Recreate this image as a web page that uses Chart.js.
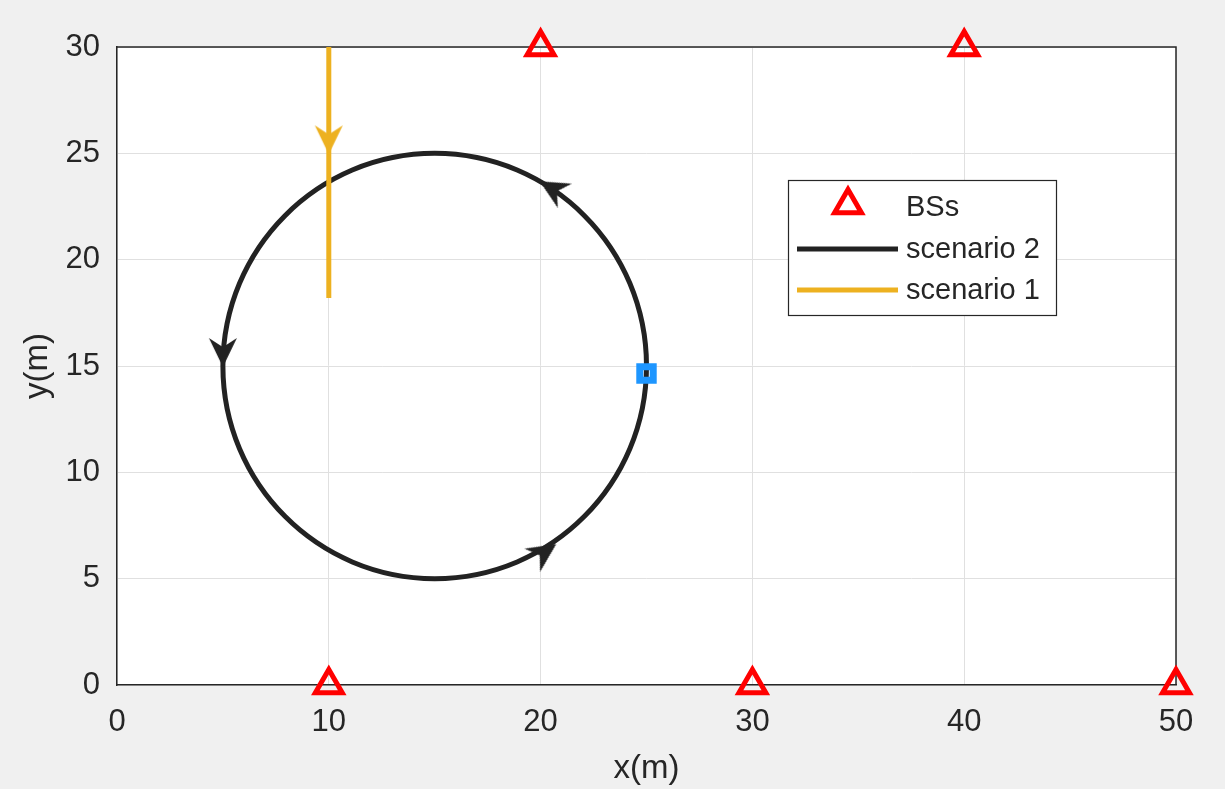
<!DOCTYPE html>
<html>
<head>
<meta charset="utf-8">
<script src="https://cdn.jsdelivr.net/npm/chart.js"></script>
<style>
  html, body { margin: 0; padding: 0; background: #f0f0f0; }
  canvas { display: block; }
</style>
</head>
<body>
<canvas id="trajChart" width="1225" height="789"></canvas>
<script>
// Estaciones base (triángulos rojos)
const bsX = [10, 20, 30, 40, 50];
const bsY = [0, 30, 0, 30, 0];

// Escenario 1: recta vertical en x = 10
const scen1X = [10, 10];
const scen1Y = [30, 18.2];

// Escenario 2: círculo centro (15,15) radio 10, puntos de cuadrante.
// El primero y el último solo sirven de apoyo a la curva (no se pintan)
const scen2X = [15, 25, 15, 5, 15, 25, 15];
const scen2Y = [5, 15, 25, 15, 5, 15, 25];

// Punto de inicio (cuadrado azul)
const startX = [25];
const startY = [14.65];

// Flechas de sentido: punta y rumbo (grados, antihorario desde +x)
const arrowX = [20, 5, 20.7, 10];
const arrowY = [23.66, 15, 6.6, 25];
const arrowHeading = [150, 270, 34, 270];
const arrowSeries = ['scenario 2', 'scenario 2', 'scenario 2', 'scenario 1'];

// Ejes
const xTicks = [0, 10, 20, 30, 40, 50];
const yTicks = [0, 5, 10, 15, 20, 25, 30];
const legendOrder = ['BSs', 'scenario 2', 'scenario 1'];

const seriesColor = { 'scenario 1': '#EDB120', 'scenario 2': '#222222' };
const textColor = '#262626';
const fontFamily = '"Liberation Sans", Arial, Helvetica, sans-serif';

Chart.defaults.font.family = fontFamily;
Chart.defaults.color = textColor;

// Punta de flecha dibujada en un canvas, con la punta en el centro
function makeArrowHead(color) {
    const c = document.createElement('canvas');
    c.width = 70;
    c.height = 70;
    const g = c.getContext('2d');
    g.translate(35, 35);
    g.fillStyle = color;
    g.beginPath();
    g.moveTo(1, 0);
    g.lineTo(-28, -14);
    g.quadraticCurveTo(-22, -5, -19, 0);
    g.quadraticCurveTo(-22, 5, -28, 14);
    g.closePath();
    g.fill();
    return c;
}
const arrowHeads = {
    'scenario 1': makeArrowHead(seriesColor['scenario 1']),
    'scenario 2': makeArrowHead(seriesColor['scenario 2']),
};

const toPoints = (xs, ys) => xs.map((x, i) => ({ x: x, y: ys[i] }));

// Fondo gris, área blanca y caja superior/derecha
const fondoPlugin = {
    id: 'fondo',
    beforeDraw(chart) {
        const { ctx, chartArea: a } = chart;
        ctx.save();
        ctx.fillStyle = '#f0f0f0';
        ctx.fillRect(0, 0, chart.width, chart.height);
        ctx.fillStyle = '#ffffff';
        ctx.fillRect(a.left, a.top, a.right - a.left, a.bottom - a.top);
        ctx.restore();
    },
    beforeDatasetsDraw(chart) {
        const { ctx, chartArea: a } = chart;
        ctx.save();
        ctx.strokeStyle = textColor;
        ctx.lineWidth = 1.5;
        ctx.beginPath();
        ctx.moveTo(a.left, a.top);
        ctx.lineTo(a.right, a.top);
        ctx.lineTo(a.right, a.bottom);
        ctx.stroke();
        ctx.restore();
    }
};

// Leyenda dentro del área, como en MATLAB
const leyendaPlugin = {
    id: 'leyenda',
    afterDraw(chart) {
        const ctx = chart.ctx;
        const box = { x: 788, y: 180, w: 268, h: 135 };
        const rowY = [207, 249, 290];
        ctx.save();
        ctx.fillStyle = '#ffffff';
        ctx.fillRect(box.x, box.y, box.w, box.h);
        ctx.strokeStyle = textColor;
        ctx.lineWidth = 1.2;
        ctx.strokeRect(box.x + 0.5, box.y + 0.5, box.w, box.h);

        legendOrder.forEach((label, i) => {
            const ds = chart.data.datasets.find(d => d.label === label);
            const y = rowY[i];
            if (ds.showLine) {
                ctx.strokeStyle = ds.borderColor;
                ctx.lineWidth = ds.borderWidth;
                ctx.beginPath();
                ctx.moveTo(797, y);
                ctx.lineTo(898, y);
                ctx.stroke();
            } else {
                const r = ds.pointRadius;
                const cy = y - 2;
                ctx.strokeStyle = ds.pointBorderColor;
                ctx.lineWidth = ds.pointBorderWidth;
                ctx.beginPath();
                ctx.moveTo(848, cy - r);
                ctx.lineTo(848 + r * Math.sqrt(3) / 2, cy + r / 2);
                ctx.lineTo(848 - r * Math.sqrt(3) / 2, cy + r / 2);
                ctx.closePath();
                ctx.stroke();
            }
            ctx.fillStyle = textColor;
            ctx.font = '29px ' + fontFamily;
            ctx.textAlign = 'left';
            ctx.textBaseline = 'middle';
            ctx.fillText(label, 906, y + 1);
        });
        ctx.restore();
    }
};

const ctx = document.getElementById('trajChart').getContext('2d');
const trajChart = new Chart(ctx, {
    type: 'scatter',
    data: {
        datasets: [
            {
                label: 'BSs',
                data: toPoints(bsX, bsY),
                pointStyle: 'triangle',
                pointRadius: 15.5,
                pointBorderWidth: 5,
                pointBorderColor: '#ff0000',
                pointBackgroundColor: 'rgba(0,0,0,0)',
                clip: false,
            },
            {
                label: 'start',
                data: toPoints(startX, startY),
                pointStyle: 'rect',
                pointRadius: 9.5,
                pointBorderWidth: 7,
                pointBorderColor: '#1e96ff',
                pointBackgroundColor: 'rgba(0,0,0,0)',
            },
            {
                label: 'arrows',
                data: toPoints(arrowX, arrowY),
                pointRadius: 1,
                pointStyle: c => arrowHeads[arrowSeries[c.dataIndex]],
                pointRotation: c => -arrowHeading[c.dataIndex],
                clip: false,
            },
            {
                label: 'scenario 1',
                data: toPoints(scen1X, scen1Y),
                showLine: true,
                borderColor: seriesColor['scenario 1'],
                borderWidth: 5,
                pointRadius: 0,
            },
            {
                label: 'scenario 2',
                data: toPoints(scen2X, scen2Y),
                showLine: true,
                borderColor: seriesColor['scenario 2'],
                borderWidth: 5,
                pointRadius: 0,
                // tensión que reproduce un arco de círculo entre puntos de cuadrante
                tension: 0.552,
                segment: {
                    borderColor: c => (c.p0DataIndex === 0 || c.p1DataIndex === scen2X.length - 1)
                        ? 'rgba(0,0,0,0)' : undefined,
                },
            },
        ],
    },
    options: {
        responsive: false,
        animation: false,
        devicePixelRatio: 1,
        layout: { padding: { left: 0, top: 47, right: 49, bottom: 0 } },
        plugins: {
            legend: { display: false },
            tooltip: { enabled: false },
        },
        scales: {
            x: {
                type: 'linear',
                min: 0,
                max: 50,
                afterBuildTicks: s => { s.ticks = xTicks.map(v => ({ value: v })); },
                afterFit: s => { s.height = 104; },
                grid: { color: '#e0e0e0', lineWidth: 1, drawTicks: false },
                border: { display: true, color: textColor, width: 1.5 },
                ticks: { padding: 19, maxRotation: 0, color: textColor, font: { size: 31 } },
                title: { display: true, text: 'x(m)', color: textColor, font: { size: 33 }, padding: { top: 0, bottom: 0 } },
            },
            y: {
                type: 'linear',
                min: 0,
                max: 30,
                afterBuildTicks: s => { s.ticks = yTicks.map(v => ({ value: v })); },
                afterFit: s => { s.width = 117; },
                grid: { color: '#e0e0e0', lineWidth: 1, drawTicks: false },
                border: { display: true, color: textColor, width: 1.5 },
                ticks: { padding: 17, color: textColor, font: { size: 31 } },
                title: { display: true, text: 'y(m)', color: textColor, font: { size: 33 }, padding: { top: 18, bottom: 0 } },
            },
        },
    },
    plugins: [fondoPlugin, leyendaPlugin],
});
</script>
</body>
</html>
